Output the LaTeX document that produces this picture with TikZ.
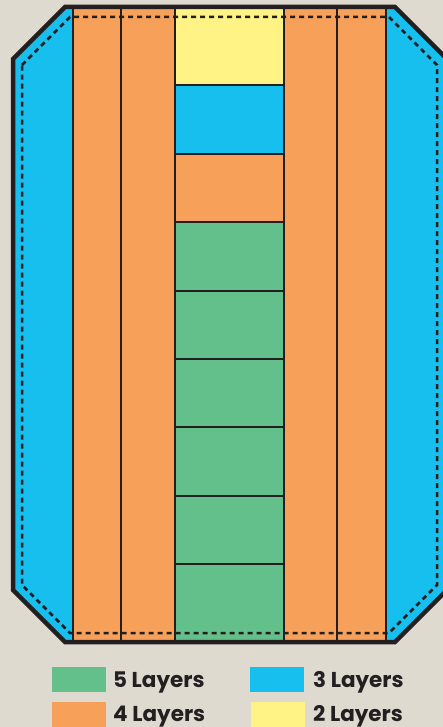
\documentclass[tikz,border=0pt]{standalone}
\usepackage{fontspec}
\setmainfont{Poppins}
\definecolor{bg}{HTML}{DEDAD0}
\definecolor{cblue}{HTML}{17BFEF}
\definecolor{corange}{HTML}{F7A05A}
\definecolor{cyellow}{HTML}{FFF385}
\definecolor{cgreen}{HTML}{63C08A}
\definecolor{ink}{HTML}{231F20}
\tikzset{
  thinline/.style={draw=ink, line width=2pt},
  outline/.style={draw=ink, line width=4.5pt, line join=miter},
  dashline/.style={draw=ink, line width=2.5pt, dash pattern=on 5pt off 4pt},
  legtext/.style={anchor=base west, inner sep=0pt, text=ink, font=\fontsize{21.5}{24}\selectfont\bfseries}
}
\begin{document}
\begin{tikzpicture}[x=1pt,y=-1pt]
\fill[bg] (0,0) rectangle (443,727);
\useasboundingbox (0,0) rectangle (443,727);
% board fill
\fill[cblue] (65,7) -- (395,7) -- (447,59) -- (447,590) -- (395,642) -- (65,642) -- (13,590) -- (13,59) -- cycle;
\fill[corange] (73,7) rectangle (175,642);
\fill[corange] (284,7) rectangle (386,642);
% middle column
\fill[cyellow] (175,7) rectangle (284,85.4);
\fill[cblue] (175,85.4) rectangle (284,153.8);
\fill[corange] (175,153.8) rectangle (284,222.2);
\fill[cgreen] (175,222.2) rectangle (284,642);
% vertical lines
\foreach \x in {73,121,175,284,337,386} \draw[thinline] (\x,7) -- (\x,642);
% horizontal lines
\foreach \y in {85.4,153.8,222.2,290.6,359,427.4,495.8,564.2} \draw[thinline] (175,\y) -- (284,\y);
% dashed inner outline
\draw[dashline] (22,65) -- (70,17) -- (389,17) -- (437,65) -- (437,585) -- (389,633) -- (70,633) -- (22,585) -- cycle;
% outline
\draw[outline] (65,7) -- (395,7) -- (447,59) -- (447,590) -- (395,642) -- (65,642) -- (13,590) -- (13,59) -- cycle;
% legend
\fill[cgreen] (52,667) rectangle (106,692);
\fill[cblue] (250,667) rectangle (304,692);
\fill[corange] (52,702) rectangle (106,727);
\fill[cyellow] (251,702) rectangle (305,727);
\node[legtext] (l5) at (113,687) {5 Layers};
\node[legtext] (l3) at (313,687) {3 Layers};
\node[legtext] (l4) at (113,721) {4 Layers};
\node[legtext] (l2) at (313,721) {2 Layers};
\end{tikzpicture}
\end{document}
